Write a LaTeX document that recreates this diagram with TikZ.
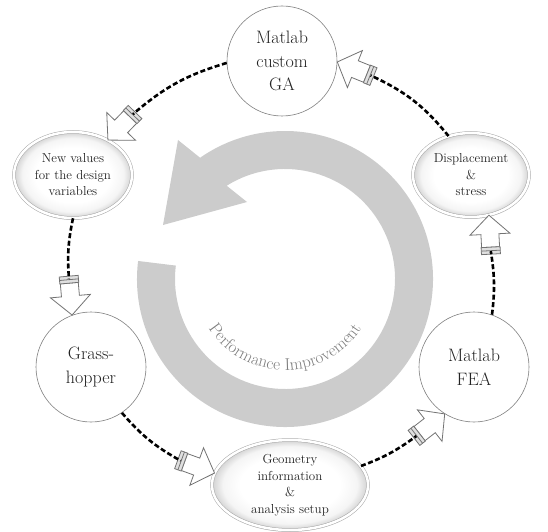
\documentclass[tikz,border=0pt]{standalone}
\usetikzlibrary{shapes.geometric,decorations.text,shadows,calc}
\definecolor{ringgray}{RGB}{204,204,204}
\definecolor{perfgray}{RGB}{125,125,125}
\definecolor{txt}{RGB}{35,35,35}
\pgfdeclareradialshading{ellshade}{\pgfpoint{0bp}{0bp}}{color(0bp)=(white); color(16bp)=(white); color(21.5bp)=(black!4); color(25bp)=(black!18); color(50bp)=(black!18)}
\tikzset{
  circ/.style={circle, draw=black!50, line width=0.6pt, fill=white, minimum size=110pt, inner sep=0pt, align=center, text=txt, font=\fontsize{18}{23.5}\selectfont},
  ell/.style={ellipse, draw=black!35, line width=0.5pt, double=white, double distance=2.5pt, shade, shading=ellshade, minimum width=116pt, minimum height=84pt, inner sep=0pt, align=center, text=txt, font=\fontsize{13}{16.5}\selectfont, drop shadow={shadow xshift=0pt, shadow yshift=-2pt, opacity=0.2}},
  conn/.style={draw=black, line width=2.6pt, dash pattern=on 5pt off 2.6pt},
  arrowline/.style={draw=black!55, line width=0.8pt},
  harrow/.pic={
    \draw[arrowline, fill=white] (-32,-9) -- (-19,-9) -- (-19,-20) -- (0,0) -- (-19,20) -- (-19,9) -- (-32,9) -- cycle;
    \draw[arrowline, fill=black!12] (-39,-9.5) rectangle (-32,9.5);
    \draw[arrowline] (-35.5,-9.5) -- (-35.5,9.5);
    \coordinate (-tail) at (-36,0);
  }
}
\begin{document}
\begin{tikzpicture}[x=1pt,y=1pt]
\useasboundingbox (0,0) rectangle (548,531);
% big circular arrow
\coordinate (C) at (285,252);
\fill[ringgray] ([shift={(C)}]-187:148) arc[start angle=-187, end angle=125, radius=148]
  -- (178,391) -- (163,306) -- (247,329)
  -- ([shift={(C)}]122:110) arc[start angle=122, end angle=-187, radius=110] -- cycle;
\path[decorate, decoration={text along path, text align=center,
   text={|\fontsize{17}{17}\selectfont\color{perfgray}|Performance Improvement}}]
   ([shift={(C)}]200:91) arc[start angle=200, end angle=340, radius=91];
% nodes
\node[circ] (ga) at (282,470) {Matlab\\custom\\GA};
\node[ell, minimum width=118pt, minimum height=86pt] (newv) at (73,356) {New values\\for the design\\variables};
\node[ell] (disp) at (471,356) {Displacement\\\&\\stress};
\node[circ] (grass) at (91,164) {Grass-\\hopper};
\node[circ] (fea) at (474,164) {Matlab\\FEA};
\node[ell, minimum width=156pt, minimum height=90pt] (geom) at (290,46) {Geometry\\information\\\&\\analysis setup};
% hollow arrows
\pic[rotate=158] (a1) at (ga.-1) {harrow};
\pic[rotate=226] (a2) at (newv.45) {harrow};
\pic[rotate=275] (a3) at (grass.110) {harrow};
\pic[rotate=-20] (a4) at (geom.171) {harrow};
\pic[rotate=38] (a5) at (fea.238) {harrow};
\pic[rotate=93] (a6) at (disp.-66) {harrow};
% dashed connectors
\draw[conn] (disp.120) to[bend right=13] (a1-tail);
\draw[conn] (ga.182) to[bend right=12] (a2-tail);
\draw[conn] (newv.-90) to[bend right=8] (a3-tail);
\draw[conn] (grass.-56) to[bend right=10] (a4-tail);
\draw[conn] (geom.15) to[bend right=8] (a5-tail);
\draw[conn] (fea.71) to[bend right=8] (a6-tail);
\end{tikzpicture}
\end{document}
